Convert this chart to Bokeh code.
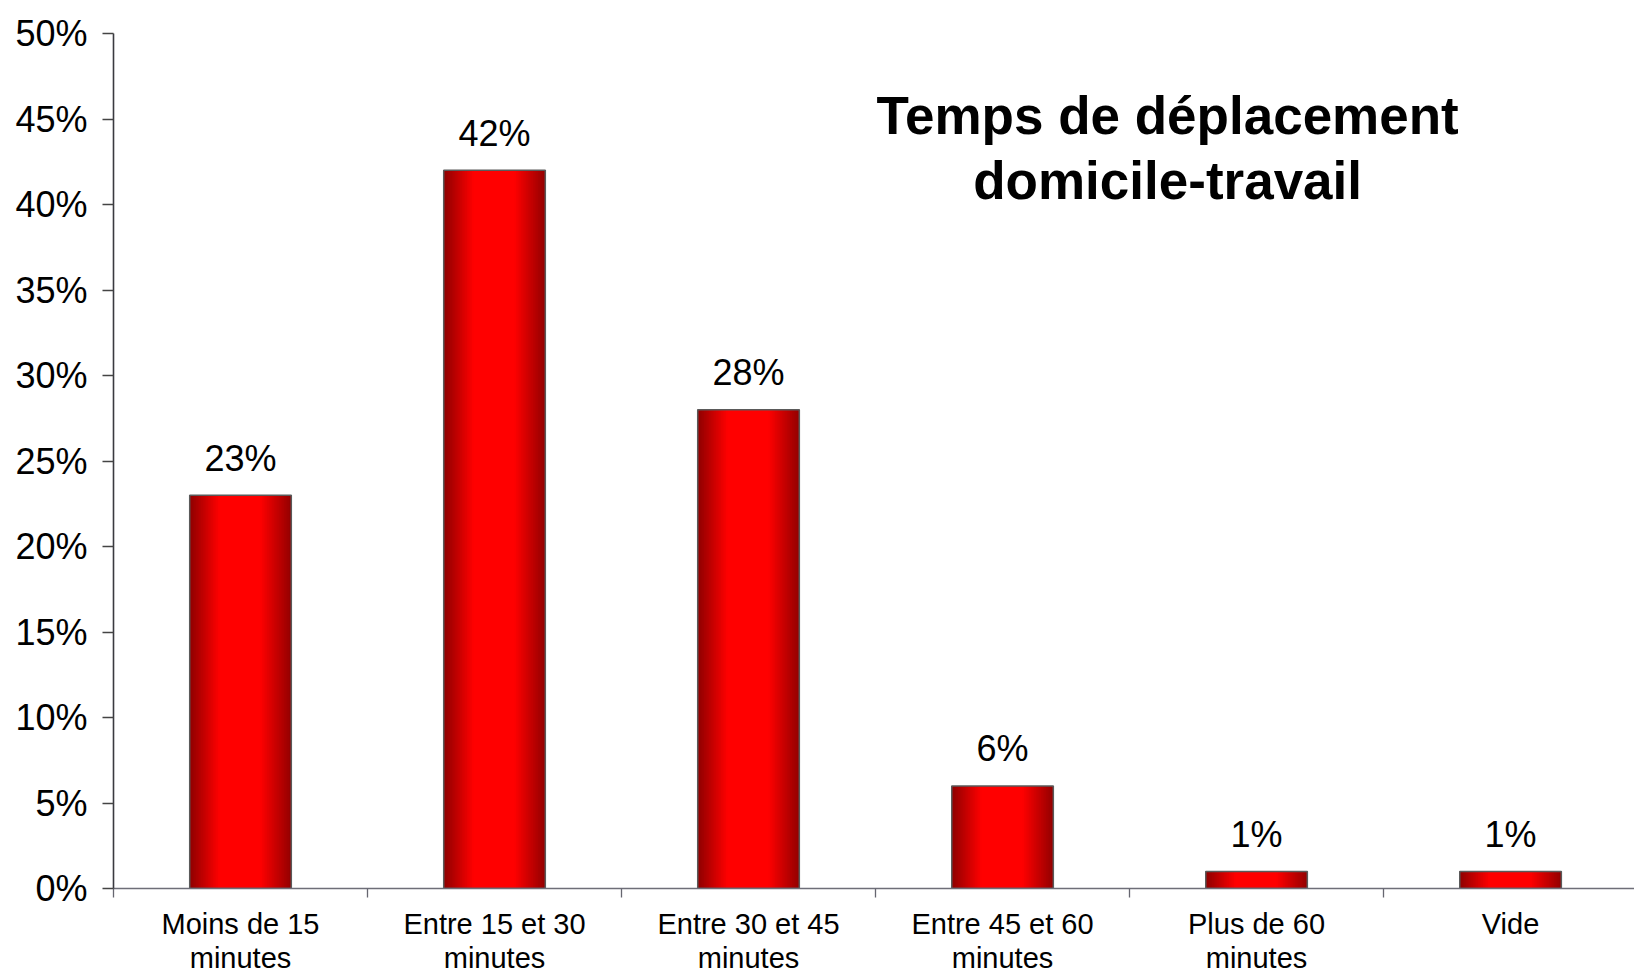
from bokeh.plotting import figure
from bokeh.models import Range1d, FixedTicker, Label, ColumnDataSource
from bokeh.embed import file_html
from bokeh.resources import INLINE
from bokeh.core.properties import value

# ---- data ----
categories = ["Moins de 15\nminutes", "Entre 15 et 30\nminutes", "Entre 30 et 45\nminutes",
              "Entre 45 et 60\nminutes", "Plus de 60\nminutes", "Vide"]
values = [23, 42, 28, 6, 1, 1]
value_labels = ["23%", "42%", "28%", "6%", "1%", "1%"]
y_ticks = [0, 5, 10, 15, 20, 25, 30, 35, 40, 45, 50]
y_tick_labels = ["0%", "5%", "10%", "15%", "20%", "25%", "30%", "35%", "40%", "45%", "50%"]
title_lines = ["Temps de déplacement", "domicile-travail"]

FONT = "Liberation Sans"
n = len(categories)
centers = [i + 0.5 for i in range(n)]
bounds = list(range(n + 1))

p = figure(width=1634, height=977, output_backend="svg", toolbar_location=None,
           x_range=Range1d(0, 5.988), y_range=Range1d(0, 50),
           min_border_left=113, min_border_right=0, min_border_top=33, min_border_bottom=88)
p.outline_line_color = None
p.xgrid.visible = False
p.ygrid.visible = False
p.background_fill_color = "white"
p.border_fill_color = "white"

# gradient bars built from thin strips
def shade(t):
    if t < 0.3:
        f = 0.55 + 0.45 * (t / 0.3)
    elif t < 0.7:
        f = 1.0
    else:
        f = 1.0 - 0.42 * ((t - 0.7) / 0.3)
    r = int(round(255 * f))
    return "#%02x0000" % r

bw = 0.40
N = 60
xs, tops, cols = [], [], []
for i, v in enumerate(values):
    for k in range(N):
        t = (k + 0.5) / N
        xs.append(centers[i] - bw / 2 + t * bw)
        tops.append(v)
        cols.append(shade(t))
p.vbar(x=xs, top=tops, bottom=0, width=bw / N * 1.6, fill_color=cols, line_color=None)
p.vbar(x=centers, top=values, bottom=0, width=bw, fill_color=None,
       line_color="#5a5a5a", line_width=1.5)

src = ColumnDataSource(dict(x=centers, y=values, t=value_labels))
p.text(x="x", y="y", text="t", source=src, text_align="center", text_baseline="middle",
       y_offset=-37, text_font=value(FONT), text_font_size="36px", text_color="#000000")

# axes
xa = p.xaxis[0]
xa.ticker = FixedTicker(ticks=centers, minor_ticks=bounds)
xa.major_label_overrides = {c: lab for c, lab in zip(centers, categories)}
xa.major_tick_line_color = None
xa.major_tick_out = 0
xa.major_tick_in = 0
xa.minor_tick_out = 9
xa.minor_tick_in = 0
xa.minor_tick_line_color = "#666670"
xa.minor_tick_line_width = 1.3
xa.axis_line_color = "#6e6e78"
xa.axis_line_width = 1.6
xa.major_label_text_font = FONT
xa.major_label_text_font_size = "29px"
xa.major_label_text_color = "#000000"
xa.major_label_standoff = 10
xa.major_label_text_line_height = 1.08

ya = p.yaxis[0]
ya.ticker = FixedTicker(ticks=y_ticks, minor_ticks=[])
ya.major_label_overrides = {t: lab for t, lab in zip(y_ticks, y_tick_labels)}
ya.major_tick_out = 11
ya.major_tick_in = 0
ya.minor_tick_line_color = None
ya.major_tick_line_color = "#444444"
ya.major_tick_line_width = 1.3
ya.axis_line_color = "#3a3a40"
ya.axis_line_width = 1.6
ya.major_label_text_font = FONT
ya.major_label_text_font_size = "36px"
ya.major_label_text_color = "#000000"
ya.major_label_standoff = 15

# title inside plot
for line, yy in zip(title_lines, [45.21, 41.41]):
    p.add_layout(Label(x=4.15, y=yy, text=line, text_align="center", text_baseline="middle",
                       text_font=FONT, text_font_style="bold", text_font_size="53px",
                       text_color="#000000"))

open("out.html", "w").write(file_html(p, INLINE))
